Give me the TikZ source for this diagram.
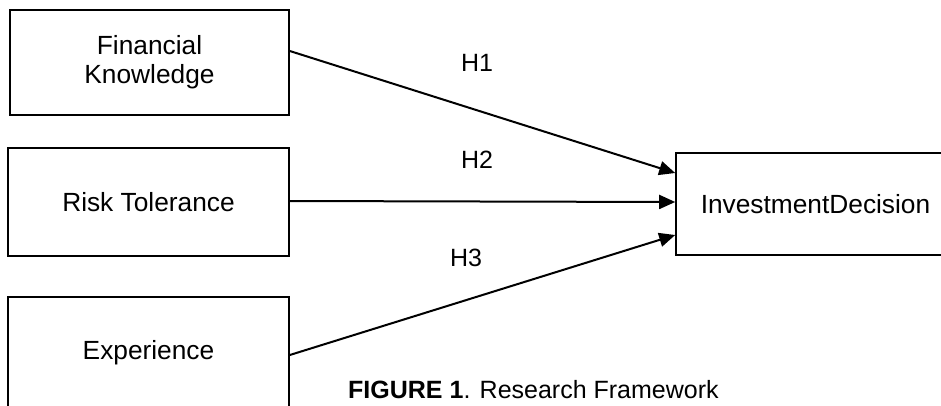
\documentclass[tikz,border=0pt]{standalone}
\usepackage{fontspec}
\setmainfont{Liberation Sans}
\usetikzlibrary{arrows.meta}
\begin{document}
\begin{tikzpicture}[x=1pt,y=-1pt,
  varbox/.style={draw=black,line width=1.6pt,fill=white,inner sep=0pt,align=center,
    font=\fontsize{26.3}{29}\selectfont},
  hyp/.style={line width=2pt,-{Triangle[length=16pt,width=14pt]}},
  hlabel/.style={inner sep=0pt,font=\fontsize{25}{28}\selectfont}]
\useasboundingbox (0,0) rectangle (941,405);
\clip (0,0) rectangle (941,405);
\node[varbox,minimum width=279pt,minimum height=105pt] (fk) at (149.5,62.5) {Financial\\Knowledge};
\node[varbox,minimum width=281pt,minimum height=108pt] (rt) at (148.5,202) {Risk Tolerance};
\node[varbox,minimum width=281pt,minimum height=112pt] (ex) at (148.5,353) {Experience};
\node[varbox,minimum width=279pt,minimum height=102pt] (id) at (815.5,204) {InvestmentDecision};
\draw[hyp] ([yshift=11.5pt]fk.east) -- ([yshift=31pt]id.west);
\draw[hyp] ([yshift=1pt]rt.east) -- ([yshift=2pt]id.west);
\draw[hyp] ([yshift=-2pt]ex.east) -- ([yshift=-31pt]id.west);
\node[hlabel] (h1) at (477,63) {H1};
\node[hlabel] (h2) at (477,160) {H2};
\node[hlabel] (h3) at (466,258) {H3};
\node[inner sep=0pt,anchor=base west,font=\fontsize{25}{28}\selectfont] (cap) at (348,398) {\textbf{FIGURE 1}. Research Framework};
\end{tikzpicture}
\end{document}
